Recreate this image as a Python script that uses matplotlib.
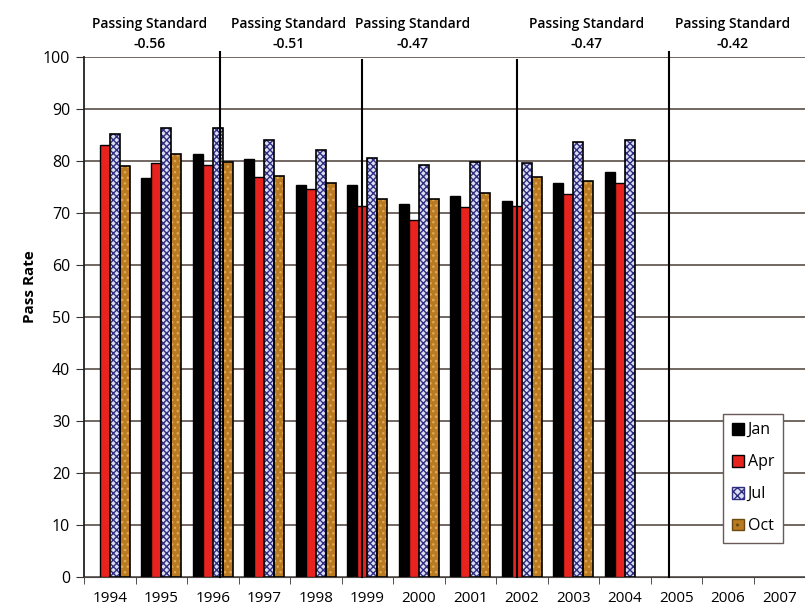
import matplotlib
matplotlib.use("Agg")
import matplotlib.pyplot as plt
from matplotlib.patches import Patch
import numpy as np

plt.rcParams["font.family"] = ["Open Sans", "DejaVu Sans"]

years = [str(y) for y in range(1994, 2008)]
jan = [np.nan, 76.8, 81.4, 80.3, 75.3, 75.3, 71.7, 73.2, 72.3, 75.7, 77.9, np.nan, np.nan, np.nan]
apr = [83.1, 79.7, 79.2, 77.0, 74.7, 71.3, 68.7, 71.1, 71.3, 73.6, 75.7, np.nan, np.nan, np.nan]
jul = [85.2, 86.3, 86.3, 84.1, 82.2, 80.5, 79.3, 79.9, 79.7, 83.7, 84.1, np.nan, np.nan, np.nan]
octo = [79.0, 81.4, 79.9, 77.1, 75.7, 72.7, 72.6, 73.8, 77.0, 76.1, np.nan, np.nan, np.nan, np.nan]

# passing standard periods: divider positions (in year units) and label centres
standard_values = ["-0.56", "-0.51", "-0.47", "-0.47", "-0.42"]
standard_label_years = [1994.78, 1997.47, 1999.88, 2003.25, 2006.1]
standard_change_years = [1996.15, 1998.89, 2001.91, 2004.86]
divider_tall = [True, False, False, True]

JUL_FACE = "#dcdcf2"
JUL_HATCH = "#2e2e80"
OCT_FACE = "#b97a22"
OCT_DOTS = "#e0aa55"

fig = plt.figure(figsize=(8.05, 6.09), dpi=100)
ax = fig.add_axes([84 / 805, 32 / 609, 721 / 805, 520 / 609])

x = np.arange(len(years))
w = 0.195

ax.bar(x - 1.5 * w, jan, w, color="black", edgecolor="black", linewidth=1, zorder=3)
ax.bar(x - 0.5 * w, apr, w, color="#e8221c", edgecolor="black", linewidth=1, zorder=3)
# checkered Jul bars: hatch layer then black outline
ax.bar(x + 0.5 * w, jul, w, color=JUL_FACE, edgecolor=JUL_HATCH, hatch="xxxxx", linewidth=0, zorder=3)
ax.bar(x + 0.5 * w, jul, w, fill=False, edgecolor="black", linewidth=1.2, zorder=4)
ax.bar(x + 1.5 * w, octo, w, color=OCT_FACE, edgecolor=OCT_DOTS, hatch="...", linewidth=0, zorder=3)
ax.bar(x + 1.5 * w, octo, w, fill=False, edgecolor="black", linewidth=1.2, zorder=4)

ax.set_xlim(-0.5, len(years) - 0.5)
ax.set_ylim(0, 100)
ax.set_yticks(np.arange(0, 101, 10))
ax.yaxis.grid(True, color="#4a3f38", linewidth=1.1, zorder=0)
ax.set_axisbelow(True)

ax.set_xticks(x)
ax.set_xticklabels(years)
ax.set_xticks(np.arange(-0.5, len(years), 1), minor=True)
ax.tick_params(axis="x", which="major", length=0, pad=10, labelsize=11)
ax.tick_params(axis="x", which="minor", length=5, color="#333333", direction="out")
ax.tick_params(axis="y", length=6, color="#333333", labelsize=11.5, pad=4)
for lab in ax.get_xticklabels() + ax.get_yticklabels():
    lab.set_fontweight("medium")

for s in ["top", "right"]:
    ax.spines[s].set_visible(False)
ax.spines["left"].set_color("#222222")
ax.spines["left"].set_linewidth(1.3)
ax.spines["bottom"].set_color("#444444")

fig.text(30 / 805, 1 - 287 / 609, "Pass Rate", rotation=90, ha="center", va="center",
         fontsize=11, fontweight="bold")

for yr, tall in zip(standard_change_years, divider_tall):
    xp = yr - 1994
    ax.plot([xp, xp], [0, 101.0 if tall else 99.4], color="black", linewidth=1.5,
            zorder=5, clip_on=False)

for yr, val in zip(standard_label_years, standard_values):
    xp = yr - 1994
    ax.text(xp, 1.0 + 23 / 520, "Passing Standard\n" + val, transform=ax.get_xaxis_transform(),
            ha="center", va="center", fontsize=10, linespacing=1.5, fontweight="semibold")

handles = [
    Patch(facecolor="black", edgecolor="black", label="Jan"),
    Patch(facecolor="#e8221c", edgecolor="black", label="Apr"),
    Patch(facecolor=JUL_FACE, edgecolor=JUL_HATCH, hatch="xxxx", label="Jul"),
    Patch(facecolor=OCT_FACE, edgecolor="#6a4a10", hatch="..", label="Oct"),
]
leg = ax.legend(handles=handles, loc="lower right", bbox_to_anchor=(699 / 721, 34 / 520),
                borderaxespad=0, fontsize=11.5, handlelength=0.75, handleheight=0.75,
                handletextpad=0.25, labelspacing=1.0, borderpad=0.55, fancybox=False,
                framealpha=1)
leg.get_frame().set_edgecolor("#6a5a55")
leg.get_frame().set_linewidth(1.0)
for t in leg.get_texts():
    t.set_fontweight("medium")

fig.savefig("out.png", dpi=100)
